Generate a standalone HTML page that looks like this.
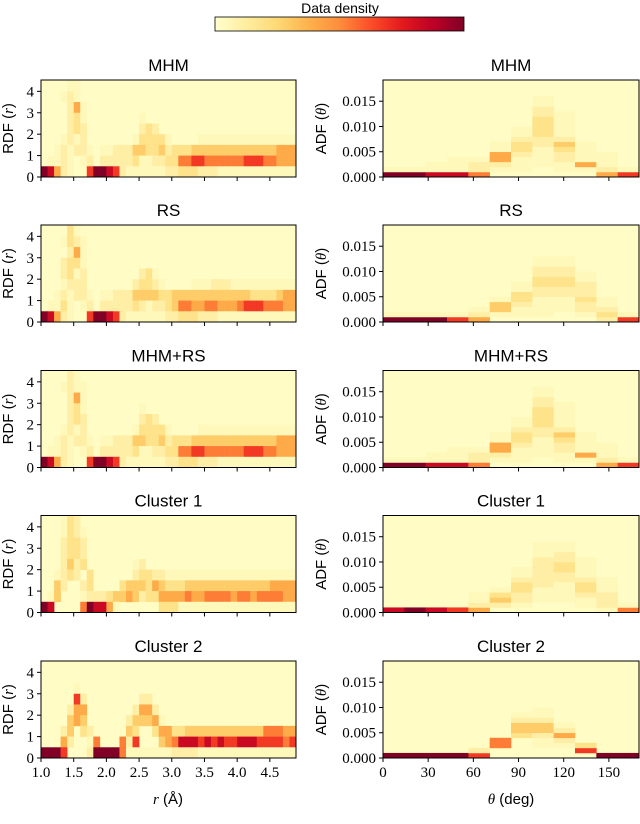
<!DOCTYPE html>
<html><head><meta charset="utf-8"><style>
body{margin:0;background:#fff;width:640px;height:824px;overflow:hidden}
svg{display:block}
.t{font-family:"Liberation Sans",sans-serif}
.n{font-family:"Liberation Serif",serif}
</style></head><body>
<svg id="c" width="640" height="824" xmlns="http://www.w3.org/2000/svg"></svg>
<script>
// ----- data -----
const panelTitles = ["MHM","RS","MHM+RS","Cluster 1","Cluster 2"];
const rdfXTicks = [1.0,1.5,2.0,2.5,3.0,3.5,4.0,4.5];
const rdfYTicks = [0,1,2,3,4];
const adfXTicks = [0,30,60,90,120,150];
const adfYTicks = [0,0.005,0.010,0.015];
// RDF density rows, top (4.0-4.5) to bottom (0-0.5); columns r=1.0..4.8 step 0.1
const rdfMHM = [
"0000110",
"0001210",
"0000251",
"0000231000000001",
"000023200000000232",
"000121200000001333310000111111111111111",
"001212210112224433423334444444444444555",
"011210120222223112233667766666677766555",
"985210079987211111122333222111111111111"];
const rdfRS = [
"0000310",
"0001321",
"0000251",
"0002331",
"000231200000000231",
"000122200000002332100001112221111111111",
"001212210112224444334444444444443333455",
"011310120222223212234665566555677766655",
"985210079987211111122333222111111111111"];
const rdfMHMRS = [
"0000210",
"0001211",
"0000251",
"0000231000000001",
"000023200000000232",
"000121200000001333310000111111111111111",
"001212210112224433423334444444444444555",
"011210120222223112233667766666677766555",
"985210079987211111122333222111111111111"];
const rdfC1 = [
"00013200",
"00013210",
"00023320",
"00023320",
"00024230000000120",
"001232030000002332211111111111111111111",
"004200230000344435433344444444444445555",
"014000122234454233555565566665665666655",
"980000698851000000333111111111111111111"];
const rdfC2 = [
"0",
"0",
"000001",
"000007200000000220",
"000025500000002552",
"000045400000024445100000000000000000000",
"000240320000043003553344444444444466655",
"000520016000627000456888787877888777767",
"999700029999611111112222111111111111111"];
const rdfData = [rdfMHM, rdfRS, rdfMHMRS, rdfC1, rdfC2];
// ADF density per angle bin (0..170 deg, 12 bins), digits bottom(0-0.001) to top
const adfMHM = ["91","91","811","8111","6221","0125511","0111233211","0011112233332211","0112234211111","0151111","52111","71"];
const adfRS = ["91","91","91","71","521","01441","01123311","0111122332211","0011122332211","0122322211","23211","71"];
const adfMHMRS = ["91","91","811","8111","6221","0125511","0111233211","0011112233332211","0112234211111","0151111","52111","71"];
const adfC1 = ["8","9","8","7","5211","02431","012233211","00111222222111","00111122332211","01123321111","1222111","61"];
const adfC2 = ["9","9","9","9","72","0066","000034421","0011244211","0012521","073","9","9"];
const adfData = [adfMHM, adfRS, adfMHMRS, adfC1, adfC2];

// ----- geometry -----
const svg = document.getElementById('c');
const NS = 'http://www.w3.org/2000/svg';
const bottoms = [177,322,467.5,612.5,758];
const PH = 97;
const L = {x0:41,x1:296,xmin:1.0,xmax:4.9,ymax:4.53};
const R = {x0:383,x1:639,xmin:0,xmax:170,ymax:0.0192};
const stops = ["#ffffcc","#ffeda0","#fed976","#feb24c","#fd8d3c","#fc4e2a","#e31a1c","#bd0026","#800026"];
function hx(h){return [1,3,5].map(i=>parseInt(h.substr(i,2),16));}
function cmap(v){v=Math.max(0,Math.min(1,v));const p=v*8,i=Math.min(7,Math.floor(p)),f=p-i;const a=hx(stops[i]),b=hx(stops[i+1]);return 'rgb('+a.map((x,k)=>Math.round(x+(b[k]-x)*f)).join(',')+')';}
function dcol(d){return cmap(0.02+Math.pow(d/9,1.6)*0.98);}
function el(tag,attrs,parent){const e=document.createElementNS(NS,tag);for(const k in attrs)e.setAttribute(k,attrs[k]);(parent||svg).appendChild(e);return e;}
function txt(s,attrs,parent){const e=el('text',attrs,parent);e.textContent=s;return e;}

// colorbar
const defs=el('defs',{});
const lg=el('linearGradient',{id:'cg',x1:'0',x2:'1',y1:'0',y2:'0'},defs);
stops.forEach((s,i)=>el('stop',{offset:(i/8),'stop-color':s},lg));
const cb=el('rect',{x:215,y:17,width:249,height:14,fill:'url(#cg)',stroke:'#000','stroke-width':0.8});


const cbl=txt('Data density',{x:340,y:13,'text-anchor':'middle','font-size':14,class:'t'});



function panel(ax,k,kind){
  const yb=bottoms[k],yt=yb-PH;
  const g=el('g',{});
  
  
  const sx=v=>ax.x0+(v-ax.xmin)/(ax.xmax-ax.xmin)*(ax.x1-ax.x0);
  const sy=v=>yb-v/ax.ymax*PH;
  el('rect',{x:ax.x0,y:yt,width:ax.x1-ax.x0,height:PH,fill:dcol(0)},g);
  if(kind==='rdf'){
    const rows=rdfData[k];
    rows.forEach((row,ri)=>{const lo=(rows.length-1-ri)*0.5;
      for(let c=0;c<39;c++){const d=+(row[c]||0);if(!d)continue;
        const x0=sx(1.0+c*0.1),x1=sx(1.0+(c+1)*0.1);
        const r=el('rect',{x:x0,y:sy(Math.min(lo+0.5,ax.ymax)),width:x1-x0+0.3,height:sy(lo)-sy(Math.min(lo+0.5,ax.ymax))+0.3,fill:dcol(d)},g);
        
        
      }});
  } else {
    const cols=adfData[k],bw=170/12;
    cols.forEach((col,c)=>{for(let j=0;j<col.length;j++){const d=+col[j];if(!d)continue;
      const x0=sx(c*bw),x1=sx((c+1)*bw);
      const r=el('rect',{x:x0,y:sy((j+1)*0.001),width:x1-x0+0.3,height:sy(j*0.001)-sy((j+1)*0.001)+0.3,fill:dcol(d)},g);
      
      
    }});
  }
  el('rect',{x:ax.x0,y:yt,width:ax.x1-ax.x0,height:PH,fill:'none',stroke:'#000','stroke-width':1},g);
  const xt=kind==='rdf'?rdfXTicks:adfXTicks, yt2=kind==='rdf'?rdfYTicks:adfYTicks;
  xt.forEach(v=>{el('line',{x1:sx(v),x2:sx(v),y1:yb,y2:yb+4,stroke:'#000'},g);
    if(k===4){const t=txt(kind==='rdf'?v.toFixed(1):String(v),{x:sx(v),y:yb+19,'text-anchor':'middle','font-size':15,class:'n'},g);
      
      }});
  yt2.forEach(v=>{el('line',{x1:ax.x0-4,x2:ax.x0,y1:sy(v),y2:sy(v),stroke:'#000'},g);
    const t=txt(kind==='rdf'?String(v):v.toFixed(3),{x:ax.x0-7,y:sy(v)+5,'text-anchor':'end','font-size':15,class:'n'},g);
    
    });
  const ti=txt(panelTitles[k],{x:(ax.x0+ax.x1)/2,y:yt-9,'text-anchor':'middle','font-size':17,class:'t'},g);
  
  
  const lx=kind==='rdf'?13:326, cy=(yt+yb)/2;
  const yl=el('text',{x:lx,y:cy,transform:'rotate(-90 '+lx+' '+cy+')','text-anchor':'middle','font-size':15,class:'t'},g);
  
  
  yl.innerHTML=kind==='rdf'?'RDF (<tspan font-family="Liberation Serif" font-style="italic">r</tspan>)':'ADF (<tspan font-family="Liberation Serif" font-style="italic">θ</tspan>)';
}
for(let k=0;k<5;k++){panel(L,k,'rdf');panel(R,k,'adf');}
const xl1=el('text',{x:168,y:804,'text-anchor':'middle','font-size':15,class:'t'});


xl1.innerHTML='<tspan font-family="Liberation Serif" font-style="italic">r</tspan> (Å)';
const xl2=el('text',{x:511,y:804,'text-anchor':'middle','font-size':15,class:'t'});


xl2.innerHTML='<tspan font-family="Liberation Serif" font-style="italic">θ</tspan> (deg)';
</script>
</body></html>
